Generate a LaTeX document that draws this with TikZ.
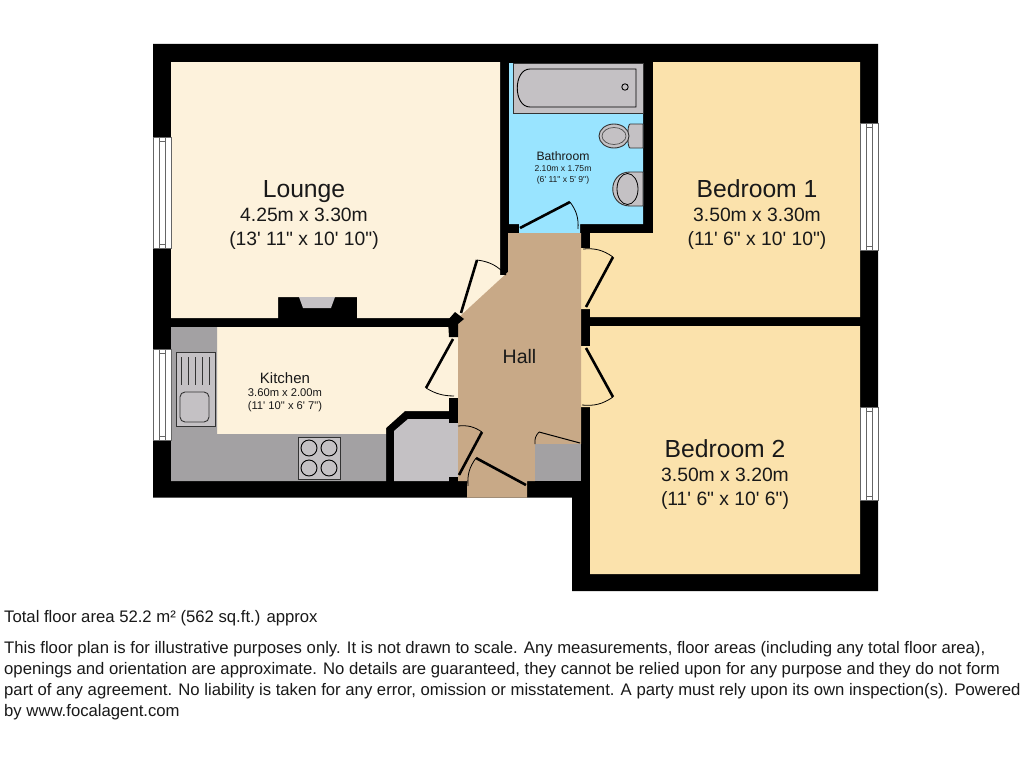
\documentclass[tikz,border=0pt]{standalone}
\usepackage{fontspec}
\usepackage{xcolor}
\newfontfamily\planfont{Liberation Sans}
\definecolor{loungecol}{HTML}{FDF2DC}
\definecolor{bedcol}{HTML}{FBE2AC}
\definecolor{bathcol}{HTML}{99E4FF}
\definecolor{hallcol}{HTML}{C8A987}
\definecolor{unitcol}{HTML}{A3A1A3}
\definecolor{storecol}{HTML}{C4C1C4}
\usetikzlibrary{positioning}
\begin{document}
\begin{tikzpicture}
    [x=1pt,y=-1pt,
    wall/.style={fill=black},
    fixture/.style={fill=storecol,draw=black!80,line width=0.9pt},
    doorleaf/.style={line width=2.6pt},
    doorarc/.style={line width=0.8pt},
    wintop/.style={fill=white,draw=black!60,line width=0.8pt},
    bigroom/.style={font=\planfont\fontsize{19.3}{24}\selectfont,align=center,text=black!90,inner sep=0pt},
    smallroom/.style={font=\planfont\fontsize{11.2}{13}\selectfont,align=center,text=black!90,inner sep=0pt},
    tinyroom/.style={font=\planfont\fontsize{8.6}{11}\selectfont,align=center,text=black!90,inner sep=0pt},
    legal/.style={font=\planfont\fontsize{16.7}{20.9}\selectfont,align=left,anchor=north west,inner sep=0pt,text=black!90}]
    \useasboundingbox[fill=white] (0,0) rectangle (1024,768);

    \fill[wall] (153,44) -- (878,44) -- (878,591) -- (572,591) -- (572,497.5) -- (153,497.5) -- cycle;

    \fill[loungecol] (171,62) -- (500,62) -- (500,275) -- (507,275) -- (461,319) -- (452,318) -- (357,318) -- (357,297) -- (278,297) -- (278,318) -- (171,318) -- cycle;
    \fill[bathcol] (509,63) -- (643,63) -- (643,224) -- (580,224) -- (580,234) -- (519,234) -- (519,224) -- (509,224) -- cycle;
    \fill[bedcol] (653,62) -- (860,62) -- (860,317) -- (590,317) -- (590,309) -- (581,309) -- (581,248) -- (590,248) -- (590,233) -- (653,233) -- cycle;
    \fill[bedcol] (590,326) -- (860,326) -- (860,574) -- (590,574) -- (590,407) -- (581,407) -- (581,346) -- (590,346) -- cycle;
    \fill[loungecol] (217,327) -- (449,327) -- (449,337) -- (458,337) -- (458,398) -- (449,398) -- (449,411) -- (405,411) -- (386,428) -- (386,434) -- (217,434) -- cycle;
    \fill[unitcol] (171,327) -- (217,327) -- (217,434) -- (386,434) -- (386,481) -- (171,481) -- cycle;
    \fill[storecol] (394,481) -- (394,431) -- (408,419) -- (449,419) -- (449,423) -- (458,423) -- (458,477) -- (449,477) -- (449,481) -- cycle;
    \fill[hallcol] (508,233) -- (581,233) -- (581,444) -- (535,444) -- (535,481) -- (527,481) -- (527,497.5) -- (467,497.5) -- (467,481) -- (458,481) -- (458,318) -- (508,272) -- cycle;
    \fill[unitcol] (535,444) rectangle (581,481);
    \fill[wall] (448,320) -- (455,312) -- (464,319) -- (458,324) -- (458,337) -- (449,337) -- cycle;

    % windows
    \foreach \winx/\wina/\winb in {153/137/248, 153/349/440, 860/123/250, 860/407/500} {
        \draw[wintop] (\winx,\wina) rectangle ++(18,\winb-\wina);
        \draw[black!60,line width=0.7pt] (\winx+6,\wina) -- (\winx+6,\winb) (\winx+12,\wina) -- (\winx+12,\winb);
        \draw[black!60,line width=1pt] (\winx+6,\wina+4) -- (\winx+12,\wina+4) (\winx+6,\winb-4) -- (\winx+12,\winb-4);
    }

    % fireplace
    \fill[storecol] (299,297) -- (335,297) -- (331,308) -- (303,308) -- cycle;

    % bathroom fittings
    \draw[fixture] (513,63) rectangle (643,113);
    \draw[line width=0.9pt] (636,69) -- (530,69) .. controls (513,69) and (513,107) .. (530,107) -- (636,107) -- cycle;
    \draw[line width=0.9pt] (625,87) circle (3.2);
    \draw[fixture] (630,124) -- (643,124) -- (643,148) -- (630,148) .. controls (627,148) and (627,124) .. (630,124);
    \draw[fixture] (614,136) ellipse (15 and 12);
    \draw[line width=0.7pt,draw=black!70] (614,136) ellipse (12 and 8.5);
    \draw[fixture] (643,172) -- (630,172) .. controls (607,172) and (607,206) .. (630,206) -- (643,206) -- cycle;
    \draw[line width=0.8pt] (627.5,189) ellipse (10.5 and 15.5);

    % kitchen fittings
    \draw[fixture] (176,352) rectangle (215,426);
    \foreach \drainx in {181,188,195,202,209} {
        \draw[line width=1pt,black!80] (\drainx,357) -- (\drainx,385);
    }
    \draw[fixture,rounded corners=5pt] (180,392) rectangle (209,422);
    \draw[fixture] (298,437) rectangle (340,479);
    \foreach \hobx in {309,329} {
        \foreach \hoby in {448,468} {
            \draw[line width=0.9pt,fill=storecol] (\hobx,\hoby) circle (8);
        }
    }

    % cupboard walls and door
    \fill[wall] (449,398) rectangle (458,423);
    \fill[wall] (449,477) rectangle (458,482);

    % doors
    \draw[doorleaf] (520,228) -- (570,202);
    \draw[doorarc] (570,202) to[bend left=20] (578,229);
    \draw[doorleaf] (461,313) -- (477,260);
    \draw[doorarc] (477,260) to[bend left=20] (506,275);
    \draw[doorleaf] (453,339) -- (426,388);
    \draw[doorarc] (426,388) to[bend right=15] (454,396);
    \draw[doorleaf] (586,307) -- (613,257);
    \draw[doorarc] (613,257) to[bend right=20] (583,249);
    \draw[doorleaf] (586,348) -- (613,397);
    \draw[doorarc] (613,397) to[bend left=20] (582,405);
    \draw[doorleaf] (459,475) -- (482,432);
    \draw[doorarc] (482,432) to[bend right=20] (458,426);
    \draw[doorleaf] (476,458) -- (526,485);
    \draw[doorarc] (476,458) to[bend right=20] (468,486);
    \draw[doorarc,line width=1pt] (539,432) -- (580,443);
    \draw[doorarc] (539,432) to[bend right=25] (535,444);

    \node[bigroom] (lounge) at (304,214.5) {{\fontsize{24.7}{25}\selectfont Lounge}\\4.25m x 3.30m\\(13' 11" x 10' 10")};
    \node[bigroom] (bedroomone) at (757,215) {{\fontsize{24.7}{25}\selectfont Bedroom 1}\\3.50m x 3.30m\\(11' 6" x 10' 10")};
    \node[bigroom] (bedroomtwo) at (725,474.5) {{\fontsize{24.7}{25}\selectfont Bedroom 2}\\3.50m x 3.20m\\(11' 6" x 10' 6")};
    \node[smallroom] (kitchen) at (285,392) {{\fontsize{15}{15}\selectfont Kitchen}\\3.60m x 2.00m\\(11' 10" x 6' 7")};
    \node[tinyroom] (bathroom) at (563,167.5) {{\fontsize{12.2}{13}\selectfont Bathroom}\\2.10m x 1.75m\\(6' 11" x 5' 9")};
    \node[font=\planfont\fontsize{19.5}{20}\selectfont,text=black!90,inner sep=0pt] (hall) at (519.5,357) {Hall};

    \node[legal] (total) at (4,610) {Total floor area 52.2 m² (562 sq.ft.) approx};
    \node[legal] (terms) at (4,641) {This floor plan is for illustrative purposes only. It is not drawn to scale. Any measurements, floor areas (including any total floor area),\\openings and orientation are approximate. No details are guaranteed, they cannot be relied upon for any purpose and they do not form\\part of any agreement. No liability is taken for any error, omission or misstatement. A party must rely upon its own inspection(s). Powered\\by www.focalagent.com};
\end{tikzpicture}
\end{document}
